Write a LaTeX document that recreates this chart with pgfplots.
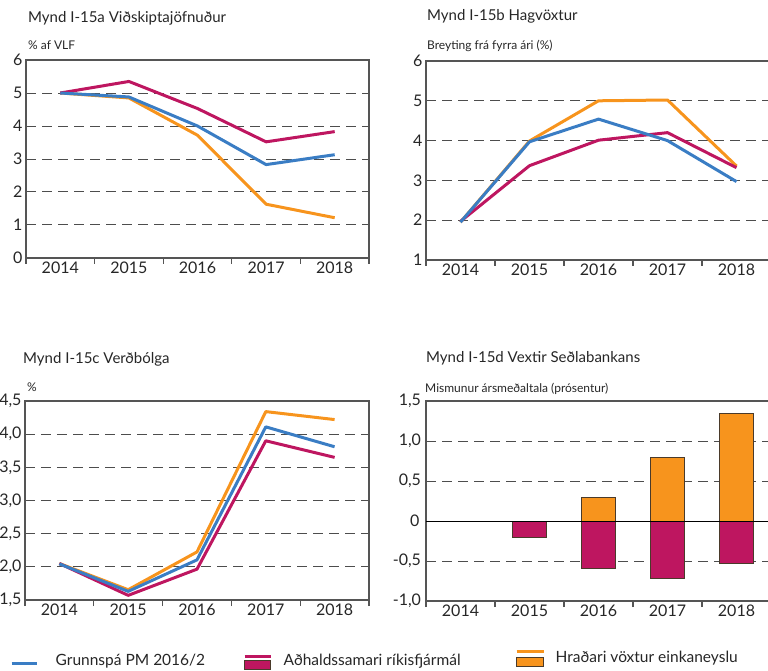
\documentclass[border=0pt]{standalone}
\usepackage{fontspec}
\setmainfont{Lato}
\usepackage{pgfplots}
\pgfplotsset{compat=1.18}
\definecolor{cblue}{HTML}{3A7DC4}
\definecolor{cmag}{HTML}{BE1660}
\definecolor{corg}{HTML}{F7941D}
\definecolor{cgrid}{HTML}{4D4D4D}
\definecolor{cframe}{HTML}{555555}
\definecolor{cedge}{HTML}{4A3A2A}
\definecolor{ctext}{HTML}{262626}
\newcommand\titlefont{\fontsize{15}{18}\selectfont}
\newcommand\unitfont{\fontsize{12}{14}\selectfont}
\newcommand\tickfont{\fontsize{16}{19}\selectfont}
\newcommand\legfont{\fontsize{15.5}{18}\selectfont}
\pgfplotsset{
  /pgf/number format/assume math mode=true,
  panel/.style={
    scale only axis,
    xmin=-0.5, xmax=4.5,
    xtick={0,1,2,3,4},
    xticklabels={2014,2015,2016,2017,2018},
    minor xtick={-0.5,0.5,1.5,2.5,3.5,4.5},
    tick pos=left,
    major tick length=0pt,
    minor tick length=6pt,
    tick align=outside,
    minor x tick style={cframe, line width=1.2pt},
    axis line style={cframe, line width=1.3pt},
    ymajorgrids,
    major grid style={cgrid, line width=1pt, dash pattern=on 10pt off 6pt},
    tick label style={font=\tickfont, text=ctext},
  },
  lineplot/.style={line width=3pt, no markers, line join=round},
  legax/.style={hide axis, scale only axis, width=10pt, height=10pt,
    xmin=0, xmax=1, ymin=0, ymax=1, anchor=south west,
    legend style={at={(0,0)}, anchor=west, draw=none, fill=none, inner sep=0pt,
      font=\legfont, text=ctext},
    legend cell align=left},
}
\begin{document}
\begin{tikzpicture}
\path[use as bounding box] (0pt,0pt) rectangle (768pt,670pt);
\clip (0pt,0pt) rectangle (768pt,670pt);
% titles
\node[anchor=base west, inner sep=0pt, font=\titlefont, text=ctext] at (28pt,647pt) {Mynd I-15a Viðskiptajöfnuður};
\node[anchor=base west, inner sep=0pt, font=\unitfont, text=ctext] at (28pt,620pt) {\% af VLF};
\node[anchor=base west, inner sep=0pt, font=\titlefont, text=ctext] at (427pt,649pt) {Mynd I-15b Hagvöxtur};
\node[anchor=base west, inner sep=0pt, font=\unitfont, text=ctext] at (427pt,620pt) {Breyting frá fyrra ári (\%)};
\node[anchor=base west, inner sep=0pt, font=\titlefont, text=ctext] at (23pt,306pt) {Mynd I-15c Verðbólga};
\node[anchor=base west, inner sep=0pt, font=\unitfont, text=ctext] at (27pt,278pt) {\%};
\node[anchor=base west, inner sep=0pt, font=\titlefont, text=ctext] at (426pt,307pt) {Mynd I-15d Vextir Seðlabankans};
\node[anchor=base west, inner sep=0pt, font=\unitfont, text=ctext] at (425pt,277pt) {Mismunur ársmeðaltala (prósentur)};

% Panel a
\begin{axis}[panel, at={(26pt,412pt)}, anchor=south west, width=343pt, height=198pt,
  ymin=0, ymax=6, ytick={0,1,2,3,4,5,6}]
\addplot[corg, lineplot] coordinates {(0,5.0) (1,4.85) (2,3.72) (3,1.63) (4,1.22)};
\addplot[cmag, lineplot] coordinates {(0,5.0) (1,5.35) (2,4.53) (3,3.52) (4,3.83)};
\addplot[cblue, lineplot] coordinates {(0,5.0) (1,4.88) (2,4.0) (3,2.83) (4,3.13)};
\end{axis}

% Panel b
\begin{axis}[panel, at={(426pt,410pt)}, anchor=south west, width=345pt, height=199pt,
  ymin=1, ymax=6, ytick={1,2,3,4,5,6}]
\addplot[corg, lineplot] coordinates {(0,1.95) (1,3.99) (2,5.0) (3,5.02) (4,3.36)};
\addplot[cmag, lineplot] coordinates {(0,1.97) (1,3.37) (2,4.01) (3,4.2) (4,3.32)};
\addplot[cblue, lineplot] coordinates {(0,1.95) (1,3.97) (2,4.54) (3,4.0) (4,2.97)};
\end{axis}

% Panel c
\begin{axis}[panel, at={(25pt,70pt)}, anchor=south west, width=344pt, height=199pt,
  ymin=1.5, ymax=4.5, ytick={1.5,2,2.5,3,3.5,4,4.5},
  yticklabels={{1,5},{2,0},{2,5},{3,0},{3,5},{4,0},{4,5}}]
\addplot[corg, lineplot] coordinates {(0,2.05) (1,1.655) (2,2.225) (3,4.34) (4,4.22)};
\addplot[cmag, lineplot] coordinates {(0,2.05) (1,1.57) (2,1.965) (3,3.9) (4,3.65)};
\addplot[cblue, lineplot] coordinates {(0,2.045) (1,1.63) (2,2.105) (3,4.11) (4,3.81)};
\end{axis}

% Panel d
\begin{axis}[panel, at={(426pt,69pt)}, anchor=south west, width=345pt, height=200pt,
  ymin=-1, ymax=1.5, ytick={-1,-0.5,0.5,1,1.5},
  yticklabel style={xshift=-1.5pt},
  yticklabels={{-1,0},{-0,5},{0,5},{1,0},{1,5}},
  extra y ticks={0}, extra y tick labels={{0,0}},
  extra y tick style={grid=none, yticklabel style={xshift=-1.5pt}}]
\addplot[ybar, bar width=34pt, bar shift=0pt, fill=corg, draw=cedge, line width=0.8pt]
  coordinates {(2,0.30) (3,0.80) (4,1.35)};
\addplot[ybar, bar width=34pt, bar shift=0pt, fill=cmag, draw=cedge, line width=0.8pt]
  coordinates {(1,-0.20) (2,-0.59) (3,-0.72) (4,-0.53)};
\addplot[black, line width=1pt, no markers] coordinates {(-0.5,0) (4.5,0)};
\end{axis}

% Legend
\begin{axis}[legax, at={(10pt,9pt)}]
\addlegendimage{legend image code/.code={\path[draw=none, fill=none] (0pt,-12pt) rectangle (42pt,12pt);
  \draw[cblue, line width=3pt] (0pt,-2pt) -- (25pt,-2pt);}}
\addlegendentry{Grunnspá PM 2016/2}
\end{axis}
\begin{axis}[legax, at={(243pt,9pt)}]
\addlegendimage{legend image code/.code={\path[draw=none, fill=none] (0pt,-12pt) rectangle (37pt,12pt);
  \draw[cmag, line width=3pt] (0pt,5pt) -- (26pt,5pt);
  \draw[fill=cmag, draw=cedge, line width=0.8pt] (0pt,-8.5pt) rectangle (26pt,1pt);}}
\addlegendentry{Aðhaldssamari ríkisfjármál}
\end{axis}
\begin{axis}[legax, at={(515pt,12.5pt)}]
\addlegendimage{legend image code/.code={\path[draw=none, fill=none] (0pt,-12pt) rectangle (37pt,12pt);
  \draw[corg, line width=3pt] (0pt,6.5pt) -- (27pt,6.5pt);
  \draw[fill=corg, draw=cedge, line width=0.8pt] (0pt,-8.5pt) rectangle (27pt,0.5pt);}}
\addlegendentry{Hraðari vöxtur einkaneyslu}
\end{axis}
\end{tikzpicture}
\end{document}
